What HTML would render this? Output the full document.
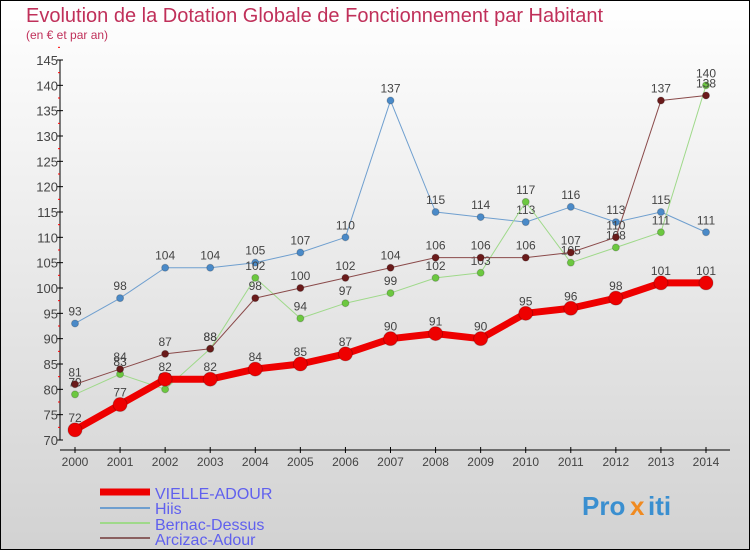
<!DOCTYPE html>
<html><head><meta charset="utf-8"><style>
body{margin:0}
#c{width:750px;height:550px;position:relative;overflow:hidden;font-family:"Liberation Sans",sans-serif}
</style></head><body>
<div id="c">
<svg id="s" width="750" height="550" xmlns="http://www.w3.org/2000/svg">
<defs><linearGradient id="bg" x1="0" y1="0" x2="0" y2="1"><stop offset="0" stop-color="#ffffff"/><stop offset="1" stop-color="#d2d2d2"/></linearGradient></defs>
<rect x="0.5" y="0.5" width="749" height="549" fill="url(#bg)" stroke="#000"/>
<text x="26" y="22" font-size="20" fill="#c0305a">Evolution de la Dotation Globale de Fonctionnement par Habitant</text>
<text x="26" y="39" font-size="12" fill="#c0305a">(en € et par an)</text>
<g id="axes"></g><g id="series"></g>
<g>
<line x1="100" y1="492" x2="150" y2="492" stroke="#ee0000" stroke-width="7"/>
<text x="155" y="499" font-size="16" fill="#6060ee">VIELLE-ADOUR</text>
<line x1="100" y1="508" x2="150" y2="508" stroke="#6f9fcf" stroke-width="2"/>
<text x="155" y="514" font-size="16" fill="#6060ee">Hiis</text>
<line x1="100" y1="523" x2="150" y2="523" stroke="#9fd98a" stroke-width="2"/>
<text x="155" y="530" font-size="16" fill="#6060ee">Bernac-Dessus</text>
<line x1="100" y1="538" x2="150" y2="538" stroke="#8a6060" stroke-width="2"/>
<text x="155" y="545" font-size="16" fill="#6060ee">Arcizac-Adour</text>
</g>
<g font-size="26" font-weight="bold">
<text x="582" y="515" fill="#3a8fd0">Pro</text><text x="630" y="515" fill="#f08a20">x</text><text x="648" y="515" fill="#3a8fd0">iti</text>
</g>
</svg>
</div>
<script>
const years=[2000,2001,2002,2003,2004,2005,2006,2007,2008,2009,2010,2011,2012,2013,2014];
const yTicks=[70,75,80,85,90,95,100,105,110,115,120,125,130,135,140,145];
const vielle=[72,77,82,82,84,85,87,90,91,90,95,96,98,101,101];
const hiis=[93,98,104,104,105,107,110,137,115,114,113,116,113,115,111];
const bernac=[79,83,80,88,102,94,97,99,102,103,117,105,108,111,140];
const arcizac=[81,84,87,88,98,100,102,104,106,106,106,107,110,137,138];
const NS="http://www.w3.org/2000/svg";
function X(i){return 75+i*(706-75)/(years.length-1);}
function Y(v){return 440-(v-70)*(380/75);}
function mk(t,a,p){const e=document.createElementNS(NS,t);for(const k in a)e.setAttribute(k,a[k]);p.appendChild(e);return e;}
const ax=document.getElementById('axes');
mk('line',{x1:60,y1:Y(145),x2:60,y2:Y(70),stroke:'#000'},ax);
mk('line',{x1:60,y1:450,x2:730,y2:450,stroke:'#000'},ax);
yTicks.forEach(v=>{
  mk('line',{x1:57,y1:Y(v),x2:63,y2:Y(v),stroke:'#000'},ax);
  mk('line',{x1:58,y1:Y(v+2.5),x2:60,y2:Y(v+2.5),stroke:'#f00'},ax);
  const t=mk('text',{x:58,y:Y(v)+5,'font-size':13,'text-anchor':'end',fill:'#444'},ax);
  t.textContent=v;
  
  
});
years.forEach((yr,i)=>{
  mk('line',{x1:X(i),y1:447,x2:X(i),y2:453,stroke:'#000'},ax);
  const t=mk('text',{x:X(i),y:466,'font-size':12,'text-anchor':'middle',fill:'#444'},ax);
  t.textContent=yr;
  
  
});
const sg=document.getElementById('series');
function draw(data,name,color,dot,w,r){
  const g=mk('g',{},sg);
  
  
  mk('polyline',{points:data.map((v,i)=>X(i)+','+Y(v)).join(' '),fill:'none',stroke:color,'stroke-width':w,'stroke-linejoin':'round'},g);
  data.forEach((v,i)=>{
    const c=mk('circle',{cx:X(i),cy:Y(v),r:r,fill:dot,stroke:'#0003'},g);
    
    
    const t=mk('text',{x:X(i),y:Y(v)-8,'font-size':12,'text-anchor':'middle',fill:'#444'},g);
    t.textContent=v;
    
    
  });
}
draw(hiis,'hiis','#6f9fcf','#4a8ac8',1,3.5);
draw(bernac,'bernac-dessus','#9fd98a','#6cc840',1,3.5);
draw(arcizac,'arcizac-adour','#8a4a4a','#6a1a1a',1,3.5);
draw(vielle,'vielle-adour','#ee0000','#ee0000',7,7);
</script>
</body></html>
